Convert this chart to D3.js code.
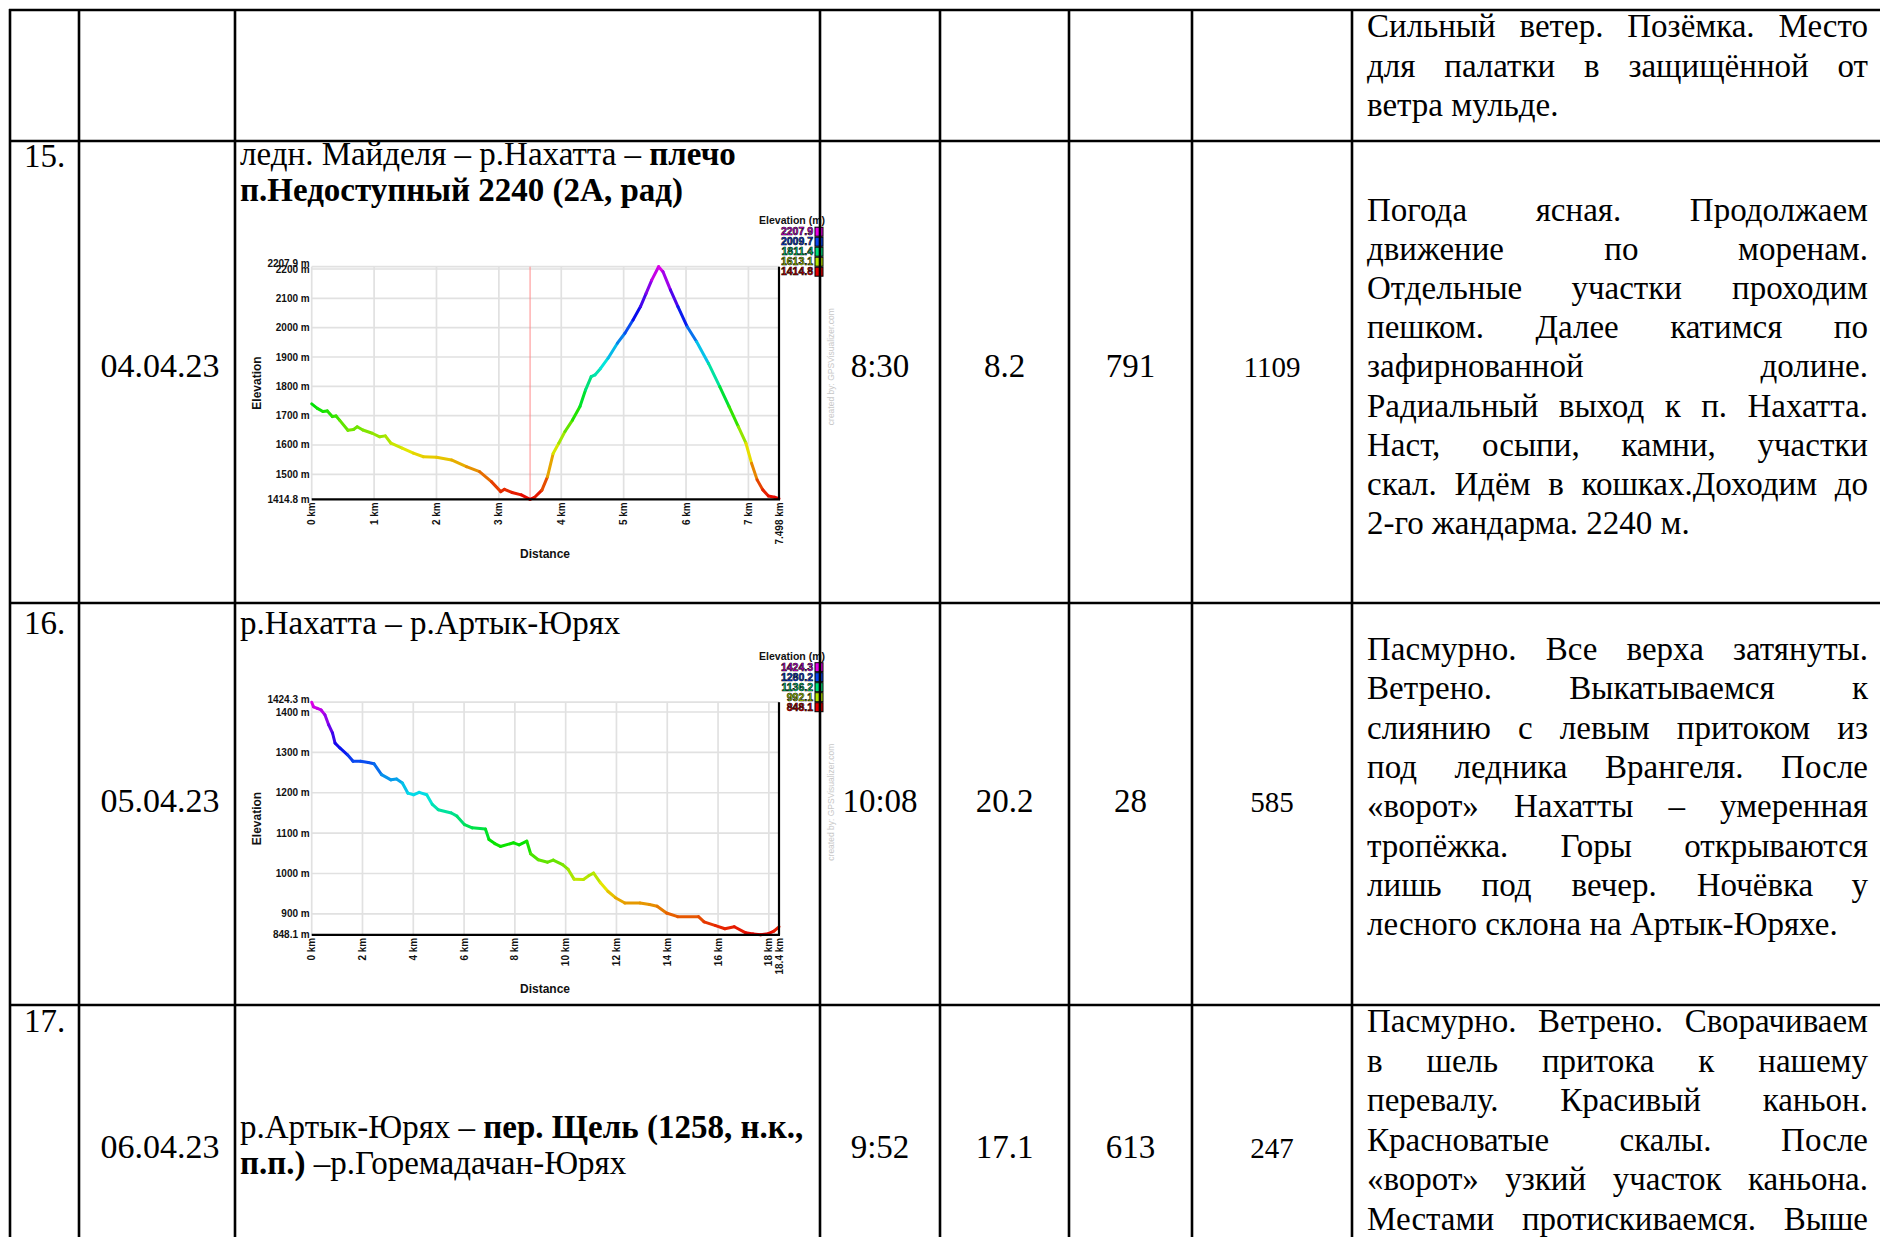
<!DOCTYPE html>
<html><head><meta charset="utf-8">
<script src="https://cdn.jsdelivr.net/npm/d3@7"></script>
<style>
html,body{margin:0;padding:0;background:#fff;overflow:hidden}
svg{display:block}
</style></head><body>
<script>
// ---------------- DATA ----------------
// Table
const rowNums = ["15.", "16.", "17."];
const dates = ["04.04.23", "05.04.23", "06.04.23"];
const durations = ["8:30", "10:08", "9:52"];
const distances = ["8.2", "20.2", "17.1"];
const ascents = ["791", "28", "613"];
const descents = ["1109", "585", "247"];
const routes = [
  [[["ледн. Майделя – р.Нахатта – ", false], ["плечо", true]], [["п.Недоступный 2240 (2А, рад)", true]]],
  [[["р.Нахатта – р.Артык-Юрях", false]]],
  [[["р.Артык-Юрях – ", false], ["пер. Щель (1258, н.к.,", true]], [["п.п.)", true], [" –р.Горемадачан-Юрях", false]]]
];
const prevDescription = ["Сильный ветер. Позёмка. Место", "для палатки в защищённой от", "ветра мульде."];
const descriptions = [
  ["Погода ясная. Продолжаем", "движение по моренам.", "Отдельные участки проходим", "пешком. Далее катимся по",
   "зафирнованной долине.", "Радиальный выход к п. Нахатта.", "Наст, осыпи, камни, участки",
   "скал. Идём в кошках.Доходим до", "2-го жандарма. 2240 м."],
  ["Пасмурно. Все верха затянуты.", "Ветрено. Выкатываемся к", "слиянию с левым притоком из",
   "под ледника Врангеля. После", "«ворот» Нахатты – умеренная", "тропёжка. Горы открываются",
   "лишь под вечер. Ночёвка у", "лесного склона на Артык-Юряхе."],
  ["Пасмурно. Ветрено. Сворачиваем", "в шель притока к нашему", "перевалу. Красивый каньон.",
   "Красноватые скалы. После", "«ворот» узкий участок каньона.", "Местами протискиваемся. Выше"]
];

// Chart 1 (04.04.23)
const chart1Km = [0,0.09,0.18,0.25,0.33,0.39,0.45,0.58,0.67,0.73,0.82,0.97,1.09,1.18,1.27,1.45,1.63,1.79,2.0,2.24,2.48,2.69,2.88,3.03,3.09,3.21,3.36,3.5,3.57,3.69,3.78,3.87,3.96,4.06,4.18,4.3,4.39,4.48,4.54,4.63,4.75,4.9,5.02,5.15,5.27,5.36,5.45,5.56,5.63,5.75,5.87,6.02,6.17,6.36,6.54,6.69,6.84,6.96,7.05,7.14,7.23,7.32,7.42,7.49];
const chart1Elev = [1740,1725,1714,1716,1697,1699,1684,1650,1653,1662,1651,1640,1628,1631,1606,1589,1572,1560,1558,1549,1526,1509,1475,1441,1449,1438,1430,1414.8,1421,1446,1492,1571,1606,1646,1685,1731,1788,1833,1839,1861,1896,1947,1981,2026,2072,2117,2162,2207.9,2191,2129,2072,2003,1952,1878,1799,1731,1662,1606,1538,1481,1447,1426,1422,1417];
const chart1YTicks = [1500,1600,1700,1800,1900,2000,2100,2200];
const chart1XTicks = [0,1,2,3,4,5,6,7];
const chart1XMax = 7.49;
const chart1XMaxLabel = "7.498 km";
const chart1YMin = 1414.8, chart1YMax = 2207.9;
const chart1Legend = [2207.9, 2009.7, 1811.4, 1613.1, 1414.8];
const chart1Marker = 3.5;

// Chart 2 (05.04.23)
const chart2Km = [0,0.07,0.22,0.37,0.52,0.67,0.82,0.92,1.11,1.41,1.63,1.93,2.23,2.45,2.75,3.12,3.34,3.57,3.79,4.01,4.23,4.53,4.75,4.98,5.5,5.72,6.02,6.32,6.84,6.98,7.21,7.43,7.95,8.17,8.47,8.62,8.92,9.29,9.51,9.88,10.1,10.33,10.7,10.92,11.1,11.37,11.66,11.96,12.33,12.93,13.3,13.6,13.97,14.41,15.23,15.45,15.9,16.27,16.64,17.09,17.38,17.68,17.98,18.2,18.4];
const chart2Elev = [1424.3,1413,1409,1405,1393,1368,1348,1323,1311,1294,1278,1278,1275,1272,1245,1232,1234,1224,1199,1195,1201,1195,1171,1158,1150,1142,1121,1113,1110,1084,1074,1067,1076,1071,1080,1049,1034,1028,1033,1022,1010,986,985,995,1001,977,956,940,927,927,923,919,902,893,893,880,871,863,868,853,850,848.1,851,857,868];
const chart2YTicks = [900,1000,1100,1200,1300,1400];
const chart2XTicks = [0,2,4,6,8,10,12,14,16,18];
const chart2XMax = 18.4;
const chart2XMaxLabel = "18.4 km";
const chart2YMin = 848.1, chart2YMax = 1424.3;
const chart2Legend = [1424.3, 1280.2, 1136.2, 992.1, 848.1];

const legendColors = ["#e600e6", "#0a46f0", "#00e07a", "#b4e600", "#e60000"];

// ---------------- DRAW ----------------
const W = 1880, H = 1237;
const svg = d3.select("body").append("svg").attr("width", W).attr("height", H);
svg.append("rect").attr("width", W).attr("height", H).attr("fill", "#fff");

const SANS = "'Liberation Sans', Arial, sans-serif";
const SERIF = "'Liberation Serif', 'Times New Roman', serif";

function drawChart(cfg, oy) {
  const left = 311.7, right = 779, top = 266.7 + oy, bottom = 499.3 + oy;
  const x = d3.scaleLinear().domain([0, cfg.xMax]).range([left, right]);
  const y = d3.scaleLinear().domain([cfg.yMin, cfg.yMax]).range([bottom, top]);
  const color = d3.scaleLinear()
    .domain(cfg.legend.slice().reverse())
    .range(legendColors.slice().reverse())
    .interpolate(d3.interpolateHsl);
  const g = svg.append("g");

  // grid
  g.selectAll(null).data([...cfg.yTicks, cfg.yMax]).join("line")
    .attr("x1", left).attr("x2", right)
    .attr("y1", d => y(d)).attr("y2", d => y(d))
    .attr("stroke", "#e1e1e1").attr("stroke-width", 1.7);
  g.selectAll(null).data(cfg.xTicks).join("line")
    .attr("x1", d => x(d)).attr("x2", d => x(d))
    .attr("y1", top).attr("y2", bottom)
    .attr("stroke", "#e1e1e1").attr("stroke-width", 1.7);

  if (cfg.marker != null) {
    g.append("line").attr("x1", x(cfg.marker)).attr("x2", x(cfg.marker))
      .attr("y1", top).attr("y2", bottom).attr("stroke", "#ff8a8a").attr("stroke-width", 1);
  }

  // profile
  const pts = cfg.km.map((k, i) => [k, cfg.elev[i]]);
  g.selectAll(null).data(d3.pairs(pts)).join("line")
    .attr("x1", d => x(d[0][0])).attr("y1", d => y(d[0][1]))
    .attr("x2", d => x(d[1][0])).attr("y2", d => y(d[1][1]))
    .attr("stroke", d => color((d[0][1] + d[1][1]) / 2))
    .attr("stroke-width", 3).attr("stroke-linecap", "round");

  // frame
  g.append("line").attr("x1", left).attr("x2", right + 1).attr("y1", bottom).attr("y2", bottom)
    .attr("stroke", "#000").attr("stroke-width", 2.2);
  g.append("line").attr("x1", right).attr("x2", right).attr("y1", top).attr("y2", bottom)
    .attr("stroke", "#000").attr("stroke-width", 2.2);

  // y labels
  const yl = [cfg.yMin, ...cfg.yTicks, cfg.yMax];
  g.selectAll(null).data(yl).join("text")
    .attr("x", left - 2).attr("y", d => y(d) - (d === cfg.yMax ? 3 : 0)).attr("dy", "0.35em")
    .attr("text-anchor", "end").attr("font-family", SANS).attr("font-weight", "bold")
    .attr("font-size", 10).attr("fill", "#111")
    .text(d => d + " m");

  // x labels
  const xl = cfg.xTicks.map(d => [d, d + " km"]).concat([[cfg.xMax, cfg.xMaxLabel]]);
  g.selectAll(null).data(xl).join("text")
    .attr("transform", d => `translate(${x(d[0])},${bottom + 3}) rotate(-90)`)
    .attr("dy", "0.35em").attr("text-anchor", "end")
    .attr("font-family", SANS).attr("font-weight", "bold").attr("font-size", 10).attr("fill", "#111")
    .text(d => d[1]);

  // titles
  g.append("text").attr("transform", `translate(257,${(top + bottom) / 2}) rotate(-90)`)
    .attr("dy", "0.35em").attr("text-anchor", "middle")
    .attr("font-family", SANS).attr("font-weight", "bold").attr("font-size", 12).attr("fill", "#111")
    .text("Elevation");
  g.append("text").attr("x", 545).attr("y", bottom + 54).attr("dy", "0.35em").attr("text-anchor", "middle")
    .attr("font-family", SANS).attr("font-weight", "bold").attr("font-size", 12).attr("fill", "#111")
    .text("Distance");

  // legend
  g.append("text").attr("x", 825).attr("y", top - 46).attr("dy", "0.35em").attr("text-anchor", "end")
    .attr("font-family", SANS).attr("font-weight", "bold").attr("font-size", 10.5).attr("fill", "#111")
    .text("Elevation (m)");
  const lg = g.selectAll(null).data(cfg.legend).join("g")
    .attr("transform", (d, i) => `translate(0,${top - 35 + i * 10})`);
  lg.append("rect").attr("x", 815).attr("y", -4.5).attr("width", 8).attr("height", 9)
    .attr("fill", (d, i) => legendColors[i]).attr("stroke", "#000").attr("stroke-width", 1);
  lg.append("text").attr("x", 813).attr("dy", "0.35em").attr("text-anchor", "end")
    .attr("font-family", SANS).attr("font-weight", "bold").attr("font-size", 10.5)
    .attr("fill", (d, i) => legendColors[i]).attr("stroke", "#000").attr("stroke-width", 0.6)
    .text(d => d);

  // credit
  g.append("text").attr("transform", `translate(831,${top + 100}) rotate(-90)`)
    .attr("dy", "0.35em").attr("text-anchor", "middle")
    .attr("font-family", SANS).attr("font-size", 8.5).attr("fill", "#c8c8c8")
    .text("created by: GPSVisualizer.com");
}

drawChart({km: chart1Km, elev: chart1Elev, yTicks: chart1YTicks, xTicks: chart1XTicks, xMax: chart1XMax,
  xMaxLabel: chart1XMaxLabel, yMin: chart1YMin, yMax: chart1YMax, legend: chart1Legend, marker: chart1Marker}, 0);
drawChart({km: chart2Km, elev: chart2Elev, yTicks: chart2YTicks, xTicks: chart2XTicks, xMax: chart2XMax,
  xMaxLabel: chart2XMaxLabel, yMin: chart2YMin, yMax: chart2YMax, legend: chart2Legend, marker: null}, 435.5);

// ---------------- TABLE ----------------
const colX = [10, 79, 235, 820, 940, 1069, 1192, 1352];
const rowY = [10, 141, 603, 1005];
const FS = 33;

const tg = svg.append("g").attr("font-family", SERIF).attr("fill", "#000");

function paragraph(lines, x0, x1, y0, step, justifyLast) {
  lines.forEach((line, i) => {
    const t = tg.append("text").attr("x", x0).attr("y", y0 + i * step).attr("font-size", FS);
    const justify = i < lines.length - 1 || justifyLast;
    const words = line.split(" ");
    if (!justify || words.length < 2) { t.text(line); return; }
    const spans = words.map(w => t.append("tspan").text(w));
    const widths = spans.map(s => s.node().getComputedTextLength());
    const gap = (x1 - x0 - d3.sum(widths)) / (words.length - 1);
    let cx = x0;
    spans.forEach((s, j) => { s.attr("x", cx); cx += widths[j] + gap; });
  });
}

function richLine(parts, x, yb) {
  const t = tg.append("text").attr("x", x).attr("y", yb).attr("font-size", FS).attr("xml:space", "preserve");
  parts.forEach(p => t.append("tspan").attr("font-weight", p[1] ? "bold" : "normal").text(p[0]));
}

const descX0 = 1367, descX1 = 1868;
paragraph(prevDescription, descX0, descX1, 37, 39.5, false);

const numY = [167, 634, 1032];
const midY = [377, 812, 1158];
const routeY = [[165, 201], [634], [1138, 1174]];
const descY = [[221, 39.1, false], [660, 39.3, false], [1032, 39.6, true]];

rowNums.forEach((n, i) => {
  tg.append("text").attr("x", 24).attr("y", numY[i]).attr("font-size", FS).text(n);
  tg.append("text").attr("x", 160).attr("y", midY[i]).attr("text-anchor", "middle")
    .attr("font-size", 34).text(dates[i]);
  const vals = [durations[i], distances[i], ascents[i], descents[i]];
  vals.forEach((v, j) => {
    tg.append("text").attr("x", (colX[3 + j] + colX[4 + j]) / 2).attr("y", midY[i])
      .attr("text-anchor", "middle").attr("font-size", j === 3 ? 29 : FS).text(v);
  });
  routes[i].forEach((parts, k) => richLine(parts, 240, routeY[i][k]));
  paragraph(descriptions[i], descX0, descX1, descY[i][0], descY[i][1], descY[i][2]);
});

// grid lines of table
const lg2 = svg.append("g").attr("stroke", "#000").attr("stroke-width", 2.6);
lg2.selectAll(null).data(rowY).join("line")
  .attr("x1", colX[0] - 1).attr("x2", W).attr("y1", d => d).attr("y2", d => d);
lg2.selectAll(null).data(colX).join("line")
  .attr("x1", d => d).attr("x2", d => d).attr("y1", rowY[0] - 1).attr("y2", H);
</script>
</body></html>
